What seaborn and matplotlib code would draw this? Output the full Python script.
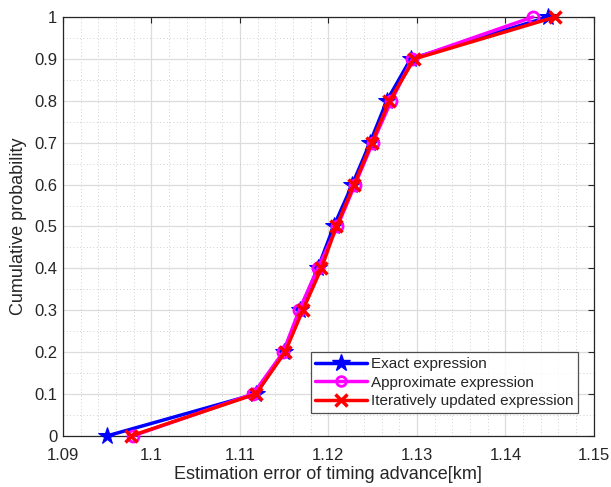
import numpy as np
import pandas as pd
import matplotlib
matplotlib.use("Agg")
import matplotlib.pyplot as plt
import seaborn as sns
from matplotlib.ticker import MultipleLocator
from matplotlib.lines import Line2D

prob = [0.0, 0.1, 0.2, 0.3, 0.4, 0.5, 0.6, 0.7, 0.8, 0.9, 1.0]
exact = [1.0950, 1.1118, 1.1150, 1.1168, 1.1188, 1.1206, 1.1227, 1.1247, 1.1266, 1.1293, 1.1448]
approx = [1.0979, 1.1115, 1.1149, 1.1167, 1.1188, 1.1210, 1.1230, 1.1250, 1.1271, 1.1295, 1.1431]
iterative = [1.0977, 1.1118, 1.1151, 1.1171, 1.1192, 1.1209, 1.1229, 1.1249, 1.1269, 1.1297, 1.1456]
names = ["Exact expression", "Approximate expression", "Iteratively updated expression"]
xticks = [1.09, 1.1, 1.11, 1.12, 1.13, 1.14, 1.15]
xticklabels = ["1.09", "1.1", "1.11", "1.12", "1.13", "1.14", "1.15"]
yticks = [0, 0.1, 0.2, 0.3, 0.4, 0.5, 0.6, 0.7, 0.8, 0.9, 1]
yticklabels = ["0", "0.1", "0.2", "0.3", "0.4", "0.5", "0.6", "0.7", "0.8", "0.9", "1"]

df = pd.concat([
    pd.DataFrame({"x": exact, "y": prob, "series": names[0]}),
    pd.DataFrame({"x": approx, "y": prob, "series": names[1]}),
    pd.DataFrame({"x": iterative, "y": prob, "series": names[2]}),
])

sns.set_style("white")
plt.rcParams["font.family"] = ["Liberation Sans", "DejaVu Sans"]

fig = plt.figure(figsize=(6.11, 4.87), dpi=100)
ax = fig.add_axes([0.103, 0.105, 0.869, 0.860])

palette = {names[0]: "#0000ff", names[1]: "#ff00ff", names[2]: "#ff0000"}
markers = {names[0]: "*", names[1]: "o", names[2]: "X"}

sns.lineplot(data=df, x="x", y="y", hue="series", style="series", palette=palette,
             markers=markers, dashes=False, sort=False, estimator=None, ax=ax,
             linewidth=2.5, markersize=9, legend=False)

for line, nm in zip(ax.lines[:3], names):
    line.set_clip_on(False)
    line.set_zorder(3)
    if nm == names[0]:
        line.set_marker("*"); line.set_markersize(13)
        line.set_markerfacecolor("#0000ff"); line.set_markeredgecolor("#0000ff")
    elif nm == names[1]:
        line.set_marker("o"); line.set_markersize(8)
        line.set_markerfacecolor("none"); line.set_markeredgecolor("#ff00ff")
        line.set_markeredgewidth(2)
    else:
        line.set_marker("x"); line.set_markersize(9)
        line.set_markeredgecolor("#ff0000"); line.set_markeredgewidth(2.5)

ax.set_xlim(1.09, 1.15)
ax.set_ylim(0, 1)
ax.set_xticks(xticks)
ax.set_xticklabels(xticklabels)
ax.set_yticks(yticks)
ax.set_yticklabels(yticklabels)
ax.xaxis.set_minor_locator(MultipleLocator(0.002))
ax.yaxis.set_minor_locator(MultipleLocator(0.05))
ax.grid(which="major", color="#dcdcdc", linewidth=0.9, linestyle="-")
ax.grid(which="minor", color="#c0c0c0", linewidth=0.6, linestyle=(0, (1, 3)))
ax.set_axisbelow(True)
ax.tick_params(which="both", direction="in", top=True, right=True, labelsize=12,
               colors="#262626", length=4)
ax.tick_params(axis="x", pad=9)
ax.tick_params(axis="y", pad=4)
ax.tick_params(which="minor", length=0)
for s in ax.spines.values():
    s.set_color("#262626")
    s.set_linewidth(0.9)

ax.set_xlabel("Estimation error of timing advance[km]", fontsize=13, color="#262626", labelpad=2)
ax.set_ylabel("Cumulative probability", fontsize=13, color="#262626", labelpad=5)

hs = [
    Line2D([], [], color="#0000ff", lw=2.5, marker="*", ms=13, mfc="#0000ff", mec="#0000ff"),
    Line2D([], [], color="#ff00ff", lw=2.5, marker="o", ms=7, mfc="none", mec="#ff00ff", mew=2),
    Line2D([], [], color="#ff0000", lw=2.5, marker="x", ms=8, mec="#ff0000", mew=2.5),
]
leg = ax.legend(hs, names, loc="lower right", bbox_to_anchor=(0.97, 0.055), fontsize=11,
                frameon=True, fancybox=False, edgecolor="#262626", handlelength=3.4,
                handletextpad=0.25, borderpad=0.3, labelspacing=0.3, borderaxespad=0)
leg.get_frame().set_linewidth(0.9)

fig.savefig("out.png", dpi=100)
